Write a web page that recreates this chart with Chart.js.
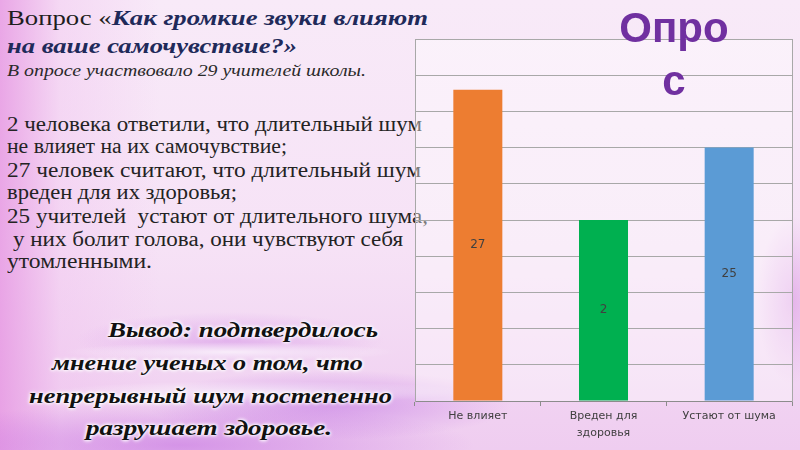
<!DOCTYPE html>
<html lang="ru">
<head>
<meta charset="utf-8">
<title>Опрос</title>
<script src="https://cdn.jsdelivr.net/npm/chart.js@4/dist/chart.umd.min.js"></script>
<style>
  html, body { margin: 0; padding: 0; }
  body {
    width: 800px; height: 450px; overflow: hidden; position: relative;
    background:
      radial-gradient(ellipse 240px 14px at 230px 352px, rgba(255, 255, 255, 0.7), rgba(255, 255, 255, 0) 70%),
      radial-gradient(ellipse 300px 16px at 260px 392px, rgba(255, 255, 255, 0.6), rgba(255, 255, 255, 0) 70%),
      radial-gradient(ellipse 260px 50px at 330px 405px, rgba(185, 100, 225, 0.5), rgba(185, 100, 225, 0) 70%),
      radial-gradient(ellipse 420px 60px at 180px 445px, rgba(195, 110, 225, 0.6), rgba(195, 110, 225, 0) 70%),
      radial-gradient(ellipse 220px 40px at 230px 340px, rgba(210, 140, 230, 0.5), rgba(210, 140, 230, 0) 70%),
      radial-gradient(ellipse 50px 120px at 792px 300px, rgba(215, 140, 225, 0.5), rgba(215, 140, 225, 0) 70%),
      linear-gradient(90deg, rgba(230, 150, 226, 0.8) 0px, rgba(240, 190, 238, 0.4) 60px, rgba(250, 230, 250, 0) 160px),
      linear-gradient(180deg, #f8eaf8 0%, #f6e2f6 55%, #efcdf0 100%);
    font-family: "Liberation Serif", "Times New Roman", serif;
  }
  .line { position: absolute; white-space: pre; transform-origin: 0 0; }
  .t1 { font-size: 22px; line-height: 28px; color: #1e1e1e; }
  .t1 b { font-style: italic; color: #1f2a5a; }
  .sub { font-size: 16px; line-height: 20px; font-style: italic; color: #2a2a2a; }
  .body { font-size: 20px; line-height: 23px; color: #232323; }
  .concl { font-size: 21px; line-height: 32px; font-weight: bold; font-style: italic; color: #111;
           text-shadow: 0 0 3px #fff, 0 0 3px #fff, 0 0 5px #fff; }
  #opros {
    position: absolute; left: 612px; top: 1px; width: 124px;
    font-family: "Liberation Sans", Arial, sans-serif; font-weight: bold;
    font-size: 42px; line-height: 53px; color: #7030a0;
    text-align: center; word-break: break-all; z-index: 2;
  }
  #chartBox { position: absolute; left: 410px; top: 34px; width: 390px; height: 416px; }
</style>
</head>
<body>

<div class="line t1" data-x="7" data-top="3.6" data-w="421">Вопрос «<b>Как громкие звуки влияют</b></div>
<div class="line t1" data-x="7" data-top="31.6" data-w="290"><b>на ваше самочувствие?»</b></div>
<div class="line sub" data-x="7" data-top="60.6" data-w="359">В опросе участвовало 29 учителей школы.</div>

<div class="line body" data-x="7" data-top="112.7" data-w="415">2 человека ответили, что длительный шум</div>
<div class="line body" data-x="7" data-top="135.2" data-w="280">не влияет на их самочувствие;</div>
<div class="line body" data-x="7" data-top="158.7" data-w="414">27 человек считают, что длительный шум</div>
<div class="line body" data-x="7" data-top="181.2" data-w="230">вреден для их здоровья;</div>
<div class="line body" data-x="7" data-top="204.7" data-w="421">25 учителей  устают от длительного шума,</div>
<div class="line body" data-x="13" data-top="227.7" data-w="390">у них болит голова, они чувствуют себя</div>
<div class="line body" data-x="7" data-top="250.2" data-w="145">утомленными.</div>

<div class="line concl" data-x="108" data-top="314" data-w="270">Вывод: подтвердилось</div>
<div class="line concl" data-x="52" data-top="347" data-w="311">мнение ученых о том, что</div>
<div class="line concl" data-x="29" data-top="380" data-w="363">непрерывный шум постепенно</div>
<div class="line concl" data-x="86" data-top="412" data-w="246">разрушает здоровье.</div>

<div id="opros">Опрос</div>

<div id="chartBox"><canvas id="surveyChart"></canvas></div>

<script>
// survey answers (bar heights, 10 grid steps)
const categories = ['Не влияет', ['Вреден для', 'здоровья'], 'Устают от шума'];
const barHeights = [8.6, 5, 7];
const barLabels = ['27', '2', '25'];
const barColors = ['#ed7d31', '#00b050', '#5b9bd5'];
const yMax = 10;

// place the text lines and stretch them to the slide width
function placeLines() {
    document.querySelectorAll('.line').forEach(el => {
        el.style.left = el.dataset.x + 'px';
        el.style.top = el.dataset.top + 'px';
        const w = el.getBoundingClientRect().width;
        const target = parseFloat(el.dataset.w);
        if (w > 0) el.style.transform = 'scaleX(' + (target / w) + ')';
    });
}

const plotBackground = {
    id: 'plotBackground',
    beforeDraw(chart) {
        const {ctx, chartArea} = chart;
        ctx.save();
        ctx.fillStyle = 'rgba(255, 255, 255, 0.4)';
        ctx.fillRect(chartArea.left, chartArea.top, chartArea.right - chartArea.left, chartArea.bottom - chartArea.top);
        ctx.restore();
    }
};

const barValueLabels = {
    id: 'barValueLabels',
    afterDatasetsDraw(chart) {
        const ctx = chart.ctx;
        const meta = chart.getDatasetMeta(0);
        ctx.save();
        ctx.font = '12px "DejaVu Sans"';
        ctx.fillStyle = '#404040';
        ctx.textAlign = 'center';
        ctx.textBaseline = 'middle';
        meta.data.forEach((bar, i) => {
            const p = bar.getProps(['x', 'y', 'base'], true);
            ctx.fillText(barLabels[i], p.x, (p.y + p.base) / 2);
        });
        ctx.restore();
    }
};

function drawChart() {
    const ctx = document.getElementById('surveyChart').getContext('2d');
    new Chart(ctx, {
        type: 'bar',
        data: {
            labels: categories,
            datasets: [{
                data: barHeights,
                backgroundColor: barColors,
                borderWidth: 0,
                barPercentage: 0.39,
                categoryPercentage: 1
            }]
        },
        options: {
            responsive: true,
            maintainAspectRatio: false,
            animation: false,
            layout: { padding: { top: 5, left: 5, right: 8, bottom: 0 } },
            plugins: {
                legend: { display: false },
                tooltip: { enabled: false }
            },
            scales: {
                x: {
                    grid: { offset: true, drawOnChartArea: false, drawTicks: true, tickLength: 5, color: '#8c8c8c' },
                    border: { color: '#8c8c8c' },
                    ticks: {
                        color: '#404040',
                        font: { family: 'DejaVu Sans', size: 11, lineHeight: 1.6 },
                        padding: 1,
                        maxRotation: 0,
                        autoSkip: false
                    },
                    afterFit: scale => { scale.height = 49; }
                },
                y: {
                    min: 0,
                    max: yMax,
                    ticks: { display: false, stepSize: 1 },
                    grid: { color: '#a8a8a8', drawTicks: false },
                    border: { display: true, color: '#a8a8a8' },
                    afterFit: scale => { scale.width = 0; }
                },
                y2: {
                    display: true,
                    position: 'right',
                    min: 0,
                    max: yMax,
                    ticks: { display: false },
                    grid: { drawOnChartArea: false, drawTicks: false },
                    border: { display: true, color: '#a8a8a8' },
                    afterFit: scale => { scale.width = 0; }
                }
            }
        },
        plugins: [plotBackground, barValueLabels]
    });
}

document.fonts.ready.then(() => {
    placeLines();
    drawChart();
});
</script>
</body>
</html>
